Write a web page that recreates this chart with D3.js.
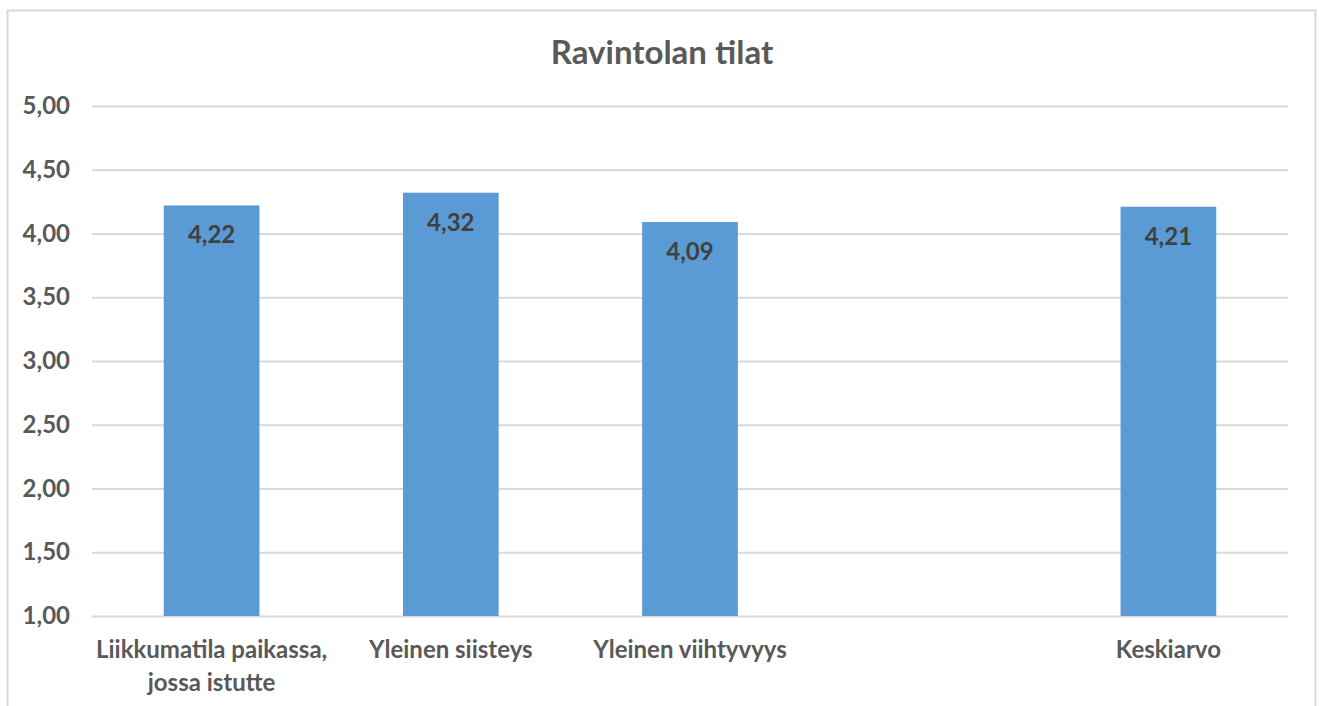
<!DOCTYPE html>
<html><head><meta charset="utf-8">
<script src="https://cdn.jsdelivr.net/npm/d3@7"></script>
<style>body{margin:0;background:#fff;} text{font-family:Lato, "Open Sans", sans-serif;font-weight:bold;}</style>
</head><body>
<svg id="c" width="1319" height="706"></svg>
<script>
const title = "Ravintolan tilat";
const categories = ["Liikkumatila paikassa, jossa istutte", "Yleinen siisteys", "Yleinen viihtyvyys", "", "Keskiarvo"];
const values = [4.22, 4.32, 4.09, null, 4.21];
const yTicks = [1.0, 1.5, 2.0, 2.5, 3.0, 3.5, 4.0, 4.5, 5.0];

const svg = d3.select("#c");
const W = 1319, H = 706;
const m = {left: 92, right: 31, top: 106, bottom: 90};
const x = d3.scaleBand().domain(d3.range(categories.length)).range([m.left, W - m.right]).paddingInner(0.6).paddingOuter(0.3);
const y = d3.scaleLinear().domain([1, 5]).range([H - m.bottom, m.top]);
const fmt = v => d3.format(".2f")(v).replace(".", ",");

svg.append("rect").attr("x", 7.5).attr("y", 10.5).attr("width", 1308).attr("height", 720)
  .attr("fill", "#fff").attr("stroke", "#d9d9d9").attr("stroke-width", 2);

svg.append("text").attr("x", 662).attr("y", 64).attr("text-anchor", "middle")
  .attr("font-size", 33).attr("fill", "#595959").text(title);

// grid
const yAxis = d3.axisLeft(y).tickValues(yTicks).tickSize(-(W - m.left - m.right)).tickFormat(fmt).tickPadding(22);
const ga = svg.append("g").attr("transform", `translate(${m.left},0)`).call(yAxis);
ga.select(".domain").remove();
ga.selectAll(".tick line").attr("stroke", "#d9d9d9").attr("stroke-width", 2);
ga.selectAll(".tick text").attr("fill", "#595959").attr("font-size", 24).attr("font-family", "Lato").attr("font-weight", "bold");

// bars
const data = values.map((v, i) => ({i, v})).filter(d => d.v != null);
svg.append("g").selectAll("rect").data(data).join("rect")
  .attr("x", d => x(d.i)).attr("width", x.bandwidth())
  .attr("y", d => y(d.v)).attr("height", d => y(1) - y(d.v))
  .attr("fill", "#5b9bd5");
svg.append("g").selectAll("text").data(data).join("text")
  .attr("x", d => x(d.i) + x.bandwidth() / 2).attr("y", d => y(d.v) + 38)
  .attr("text-anchor", "middle").attr("font-size", 24).attr("fill", "#404040")
  .text(d => fmt(d.v));

// x labels with wrap
const xg = svg.append("g");
categories.forEach((c, i) => {
  if (!c) return;
  const cx = x(i) + x.bandwidth() / 2;
  const t = xg.append("text").attr("x", cx).attr("y", H - m.bottom + 42)
    .attr("text-anchor", "middle").attr("font-size", 24).attr("fill", "#595959");
  const words = c.split(" ");
  let line = [];
  let ts = t.append("tspan").attr("x", cx).attr("dy", 0);
  for (const w of words) {
    line.push(w);
    ts.text(line.join(" "));
    if (ts.node().getComputedTextLength() > x.step() && line.length > 1) {
      line.pop(); ts.text(line.join(" "));
      line = [w];
      ts = t.append("tspan").attr("x", cx).attr("dy", 33).text(w);
    }
  }
});
</script>
</body></html>
